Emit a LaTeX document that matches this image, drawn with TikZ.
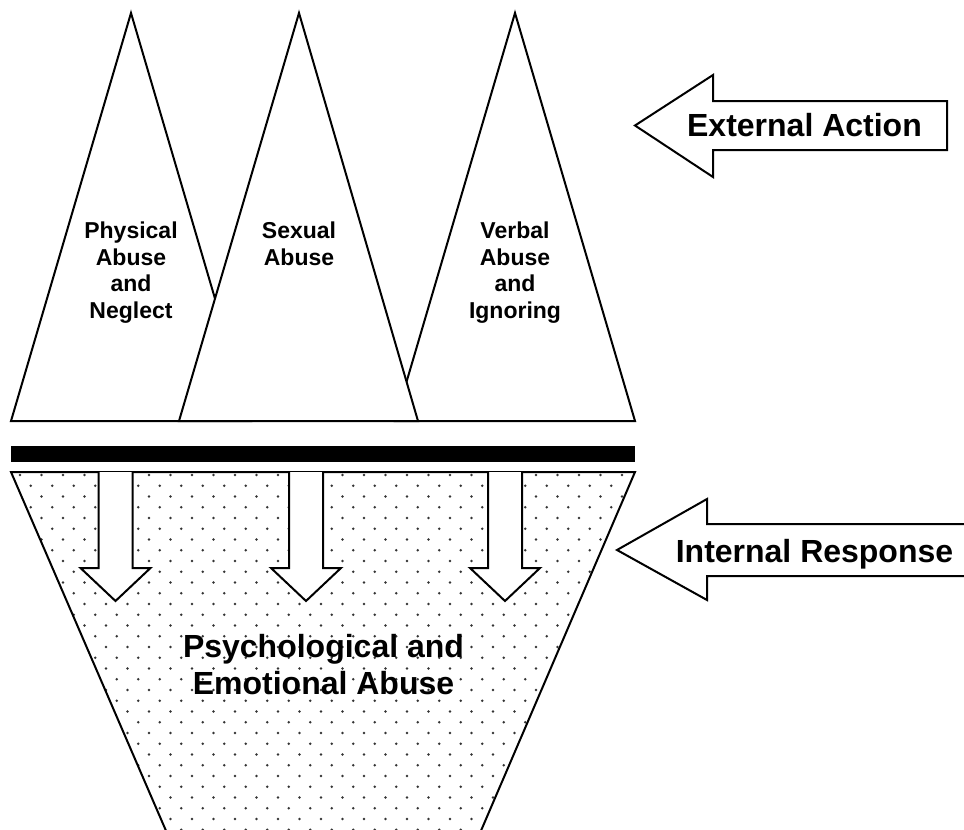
\documentclass[tikz,border=0pt]{standalone}
\usepackage{fontspec}
\setmainfont{Liberation Sans}
\definecolor{dotc}{gray}{0.2}
\begin{document}
\begin{tikzpicture}[x=1pt,y=-1pt,
  outl/.style={draw=black, fill=white, line width=2pt},
  lbl/.style={font=\bfseries\fontsize{23}{26.7}\selectfont, align=center, inner sep=0pt, anchor=north},
  big/.style={font=\bfseries\fontsize{32}{37}\selectfont, align=center, inner sep=0pt},
]
\useasboundingbox (0,0) rectangle (964,830);
% triangles
\draw[outl] (131,13) -- (251,421) -- (11,421) -- cycle;
\draw[outl] (515,13) -- (635,421) -- (395,421) -- cycle;
\draw[outl] (299,13) -- (418,421) -- (179,421) -- cycle;
\node[lbl] (phys) at (131,221.5) {Physical\\Abuse\\and\\Neglect};
\node[lbl] (sex) at (299,221.5) {Sexual\\Abuse};
\node[lbl] (verb) at (515,221.5) {Verbal\\Abuse\\and\\Ignoring};
% bar
\fill[black] (11,446) rectangle (635,462);
% trapezoid with dots
\begin{scope}
\clip (11,472) -- (635,472) -- (477,840) -- (170,840) -- cycle;
\foreach \j in {0,...,35}{
  \pgfmathsetmacro{\yy}{475+10.75*\j}
  \pgfmathsetmacro{\xo}{mod(\j,2)*10.75}
  \foreach \i in {0,...,30}{
    \fill[dotc] ({20+\xo+21.5*\i},\yy) circle (1.3);
  }
}
\end{scope}
\draw[line width=2pt] (170,840) -- (11,472) -- (635,472) -- (477,840);
% down arrows
\foreach \cx in {115.5,306,505}{
  \draw[outl] (\cx-17,472) -- (\cx-17,568) -- (\cx-35,568) -- (\cx,601) -- (\cx+35,568) -- (\cx+17,568) -- (\cx+17,472);
}
\node[big, anchor=north] (psy) at (323.5,634) {Psychological and\\Emotional Abuse};
% left arrows
\draw[outl] (635,125.5) -- (713,75) -- (713,101) -- (947,101) -- (947,150) -- (713,150) -- (713,177) -- cycle;
\node[big, anchor=base] (ext) at (804.5,136) {External Action};
\draw[outl] (617,550) -- (707,499) -- (707,524) -- (980,524) -- (980,576) -- (707,576) -- (707,600) -- cycle;
\node[big, anchor=base] (int) at (814.5,562) {Internal Response};
\end{tikzpicture}
\end{document}
